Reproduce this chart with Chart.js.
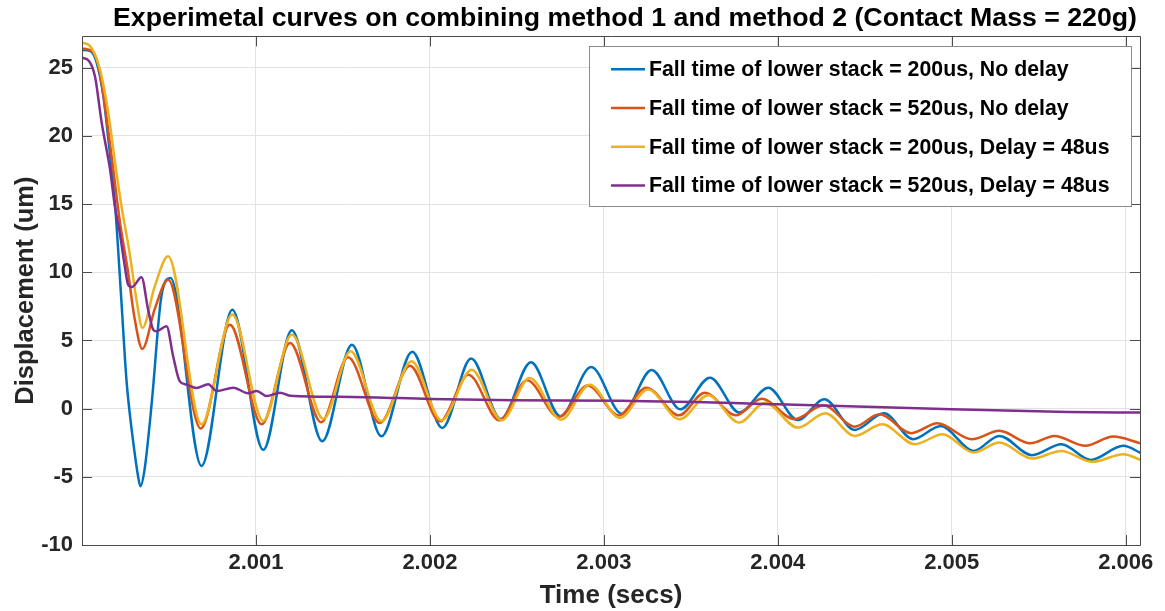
<!DOCTYPE html>
<html>
<head>
<meta charset="utf-8">
<title>Experimetal curves</title>
<script src="https://cdn.jsdelivr.net/npm/chart.js@4.4.1/dist/chart.umd.min.js"></script>
<style>
  html, body { margin: 0; padding: 0; background: #fff; }
</style>
</head>
<body>
<canvas id="chart" width="1165" height="611"></canvas>
<script>
const seriesNames = [
  'Fall time of lower stack = 200us, No delay',
  'Fall time of lower stack = 520us, No delay',
  'Fall time of lower stack = 200us, Delay = 48us',
  'Fall time of lower stack = 520us, Delay = 48us'
];
const xTicks = [2.001, 2.002, 2.003, 2.004, 2.005, 2.006];
const yTicks = [-10, -5, 0, 5, 10, 15, 20, 25];

// 200us, no delay (start, fall, then peaks and troughs)
const tBlue = [2.000000, 2.000045, 2.000084, 2.000123, 2.000151, 2.000188, 2.000226, 2.000255, 2.000274, 2.000297,
  2.000319, 2.000336, 2.000360, 2.000390, 2.000405, 2.000457, 2.000509, 2.000687, 2.000864, 2.001042,
  2.001206, 2.001381, 2.001552, 2.001721, 2.001898, 2.002071, 2.002237, 2.002408, 2.002581, 2.002750,
  2.002927, 2.003105, 2.003275, 2.003440, 2.003610, 2.003780, 2.003945, 2.004115, 2.004267, 2.004442,
  2.004610, 2.004778, 2.004937, 2.005125, 2.005273, 2.005461, 2.005630, 2.005798, 2.005986, 2.006090];
const vBlue = [26.30, 26.25, 25.40, 22.90, 19.80, 15.30, 8.00, 2.20, -0.30, -2.70,
  -4.70, -5.70, -4.44, -1.02, 1.00, 8.30, 9.58, -4.20, 7.26, -3.02,
  5.75, -2.40, 4.69, -2.03, 4.18, -1.42, 3.67, -0.76, 3.40, -0.56,
  3.06, -0.40, 2.83, -0.05, 2.27, -0.29, 1.54, -0.83, 0.68, -1.56,
  -0.34, -2.24, -1.27, -3.10, -2.00, -3.41, -2.61, -3.76, -2.73, -3.27];

// 520us, no delay
const tRed = [2.000000, 2.000060, 2.000100, 2.000160, 2.000220, 2.000265, 2.000300, 2.000347, 2.000418, 2.000495,
  2.000683, 2.000850, 2.001033, 2.001196, 2.001375, 2.001529, 2.001712, 2.001885, 2.002058, 2.002221,
  2.002400, 2.002558, 2.002740, 2.002908, 2.003085, 2.003244, 2.003432, 2.003580, 2.003758, 2.003907,
  2.004095, 2.004263, 2.004442, 2.004584, 2.004768, 2.004917, 2.005115, 2.005273, 2.005451, 2.005590,
  2.005768, 2.005927, 2.006090];
const vRed = [26.40, 26.20, 24.80, 19.50, 13.50, 10.00, 6.80, 4.38, 7.30, 9.46,
  -1.46, 6.16, -1.15, 4.82, -1.00, 3.77, -1.05, 3.15, -0.93, 2.49,
  -0.86, 2.08, -0.61, 1.69, -0.50, 1.54, -0.49, 1.17, -0.49, 0.73,
  -0.78, 0.24, -1.32, -0.41, -1.80, -1.07, -2.24, -1.63, -2.54, -2.00,
  -2.73, -2.05, -2.56];

// 200us, delay 48us
const tYellow = [2.000000, 2.000045, 2.000103, 2.000151, 2.000190, 2.000228, 2.000274, 2.000313, 2.000347, 2.000418,
  2.000495, 2.000687, 2.000864, 2.001042, 2.001206, 2.001388, 2.001544, 2.001721, 2.001894, 2.002067,
  2.002240, 2.002413, 2.002573, 2.002754, 2.002919, 2.003092, 2.003253, 2.003436, 2.003600, 2.003778,
  2.003927, 2.004115, 2.004273, 2.004442, 2.004600, 2.004788, 2.004947, 2.005125, 2.005273, 2.005461,
  2.005630, 2.005808, 2.005986, 2.006090];
const vYellow = [26.83, 26.60, 24.88, 21.70, 18.05, 14.76, 11.40, 8.00, 5.92, 8.97,
  11.17, -1.15, 6.90, -0.90, 5.43, -0.76, 4.20, -0.93, 3.47, -0.86,
  2.86, -0.86, 2.25, -0.81, 1.76, -0.68, 1.41, -0.78, 0.98, -1.02,
  0.44, -1.39, -0.34, -2.00, -1.15, -2.61, -1.88, -3.22, -2.49, -3.66,
  -3.10, -3.90, -3.34, -3.78];

// 520us, delay 48us
const tPurple = [2.000000, 2.000040, 2.000075, 2.000113, 2.000161, 2.000190, 2.000217, 2.000246, 2.000265, 2.000288,
  2.000342, 2.000380, 2.000409, 2.000428, 2.000486, 2.000524, 2.000562, 2.000601, 2.000658, 2.000726,
  2.000774, 2.000870, 2.000956, 2.001004, 2.001061, 2.001138, 2.001196, 2.001550, 2.002000, 2.002480,
  2.003100, 2.004000, 2.005000, 2.005670, 2.006090];
const vPurple = [25.73, 25.50, 24.34, 20.98, 17.56, 14.76, 12.90, 10.44, 9.10, 8.92,
  9.63, 7.26, 5.80, 5.67, 6.04, 3.84, 2.00, 1.76, 1.52, 1.78,
  1.29, 1.54, 1.12, 1.29, 0.93, 1.17, 0.95, 0.86, 0.71, 0.61,
  0.57, 0.32, -0.05, -0.24, -0.29];

const colors = ['#0072BD', '#D95319', '#EDB120', '#7E2F8E'];
const FONT = '"Liberation Sans", Arial, Helvetica, sans-serif';

function pairs(ts, vs) {
  return ts.map((t, i) => ({ x: t, y: vs[i] }));
}

const allT = [tBlue, tRed, tYellow, tPurple];
const allV = [vBlue, vRed, vYellow, vPurple];

const datasets = seriesNames.map((name, i) => ({
  label: name,
  data: pairs(allT[i], allV[i]),
  borderColor: colors[i],
  backgroundColor: colors[i],
  borderWidth: 2.5,
  pointRadius: 0,
  cubicInterpolationMode: 'monotone',
  order: 3 - i
}));

// matlab style box: top/right edges, inward ticks, framed legend
const matlabBox = {
  id: 'matlabBox',
  afterLayout(chart) {
    // title sits a little right of the axes centre in the original
    if (chart.titleBlock) {
      chart.titleBlock.left += 14;
      chart.titleBlock.right += 14;
    }
  },
  afterDraw(chart) {
    const { ctx, chartArea: a, scales } = chart;
    ctx.save();
    ctx.strokeStyle = '#4a4a4a';
    ctx.lineWidth = 1;
    ctx.beginPath();
    ctx.rect(Math.round(a.left) + 0.5, Math.round(a.top) + 0.5, Math.round(a.right - a.left), Math.round(a.bottom - a.top));
    scales.x.ticks.forEach(tk => {
      const px = Math.round(scales.x.getPixelForValue(tk.value)) + 0.5;
      ctx.moveTo(px, a.bottom); ctx.lineTo(px, a.bottom - 10);
      ctx.moveTo(px, a.top); ctx.lineTo(px, a.top + 10);
    });
    scales.y.ticks.forEach(tk => {
      const py = Math.round(scales.y.getPixelForValue(tk.value)) + 0.5;
      ctx.moveTo(a.left, py); ctx.lineTo(a.left + 10, py);
      ctx.moveTo(a.right, py); ctx.lineTo(a.right - 10, py);
    });
    ctx.stroke();

    // legend
    const ds = chart.data.datasets;
    ctx.font = 'bold 21.3px ' + FONT;
    const textW = Math.max(...ds.map(d => ctx.measureText(d.label).width));
    const rowH = 38.7;
    const boxW = Math.round(22 + 34 + 5 + textW + 21);
    const boxH = Math.round(rowH * (ds.length - 1) + 44);
    const boxR = Math.round(a.right) - 9;
    const boxT = Math.round(a.top) + 10;
    const boxL = boxR - boxW;
    ctx.fillStyle = '#fff';
    ctx.fillRect(boxL, boxT, boxW, boxH);
    ctx.strokeStyle = '#8a8a8a';
    ctx.strokeRect(boxL + 0.5, boxT + 0.5, boxW, boxH);
    ctx.textBaseline = 'middle';
    ctx.textAlign = 'left';
    ds.forEach((d, i) => {
      const cy = boxT + 23.3 + i * rowH;
      ctx.strokeStyle = d.borderColor;
      ctx.lineWidth = 2.5;
      ctx.beginPath();
      ctx.moveTo(boxL + 22, cy); ctx.lineTo(boxL + 56, cy);
      ctx.stroke();
      ctx.fillStyle = '#000';
      ctx.fillText(d.label, boxL + 60, cy + 1);
    });
    ctx.restore();
  }
};

new Chart(document.getElementById('chart'), {
  type: 'line',
  data: { datasets },
  options: {
    responsive: false,
    animation: false,
    events: [],
    layout: { padding: { left: 0, right: 25, top: 0, bottom: 0 } },
    plugins: {
      legend: { display: false },
      tooltip: { enabled: false },
      title: {
        display: true,
        fullSize: false,
        text: 'Experimetal curves on combining method 1 and method 2 (Contact Mass = 220g)',
        color: '#000',
        font: { family: FONT, size: 26.7, weight: 'bold', lineHeight: 1.1 },
        padding: { top: 4, bottom: 3 }
      }
    },
    scales: {
      x: {
        type: 'linear',
        min: 2.000,
        max: 2.006082,
        afterBuildTicks: s => { s.ticks = xTicks.map(v => ({ value: v })); },
        afterFit: s => { s.height = 66; },
        grid: { color: '#e3e3e3', lineWidth: 1, drawTicks: false },
        border: { display: false },
        ticks: {
          padding: 5,
          color: '#262626',
          font: { family: FONT, size: 22, weight: 'bold' },
          maxRotation: 0,
          autoSkip: false,
          callback: v => v.toFixed(3)
        },
        title: {
          display: true,
          text: 'Time (secs)',
          color: '#262626',
          font: { family: FONT, size: 26, weight: 'bold', lineHeight: 1.2 },
          padding: { top: 0, bottom: 0 }
        }
      },
      y: {
        type: 'linear',
        min: -10,
        max: 27.3,
        afterBuildTicks: s => { s.ticks = yTicks.map(v => ({ value: v })); },
        afterFit: s => { s.width = 82; },
        grid: { color: '#e3e3e3', lineWidth: 1, drawTicks: false },
        border: { display: false },
        ticks: {
          padding: 9,
          color: '#262626',
          font: { family: FONT, size: 22, weight: 'bold' },
          autoSkip: false,
          callback: v => String(v)
        },
        title: {
          display: true,
          text: 'Displacement (um)',
          color: '#262626',
          font: { family: FONT, size: 25.5, weight: 'bold', lineHeight: 1.2 },
          padding: { top: 11, bottom: 0 }
        }
      }
    }
  },
  plugins: [matlabBox]
});
</script>
</body>
</html>
